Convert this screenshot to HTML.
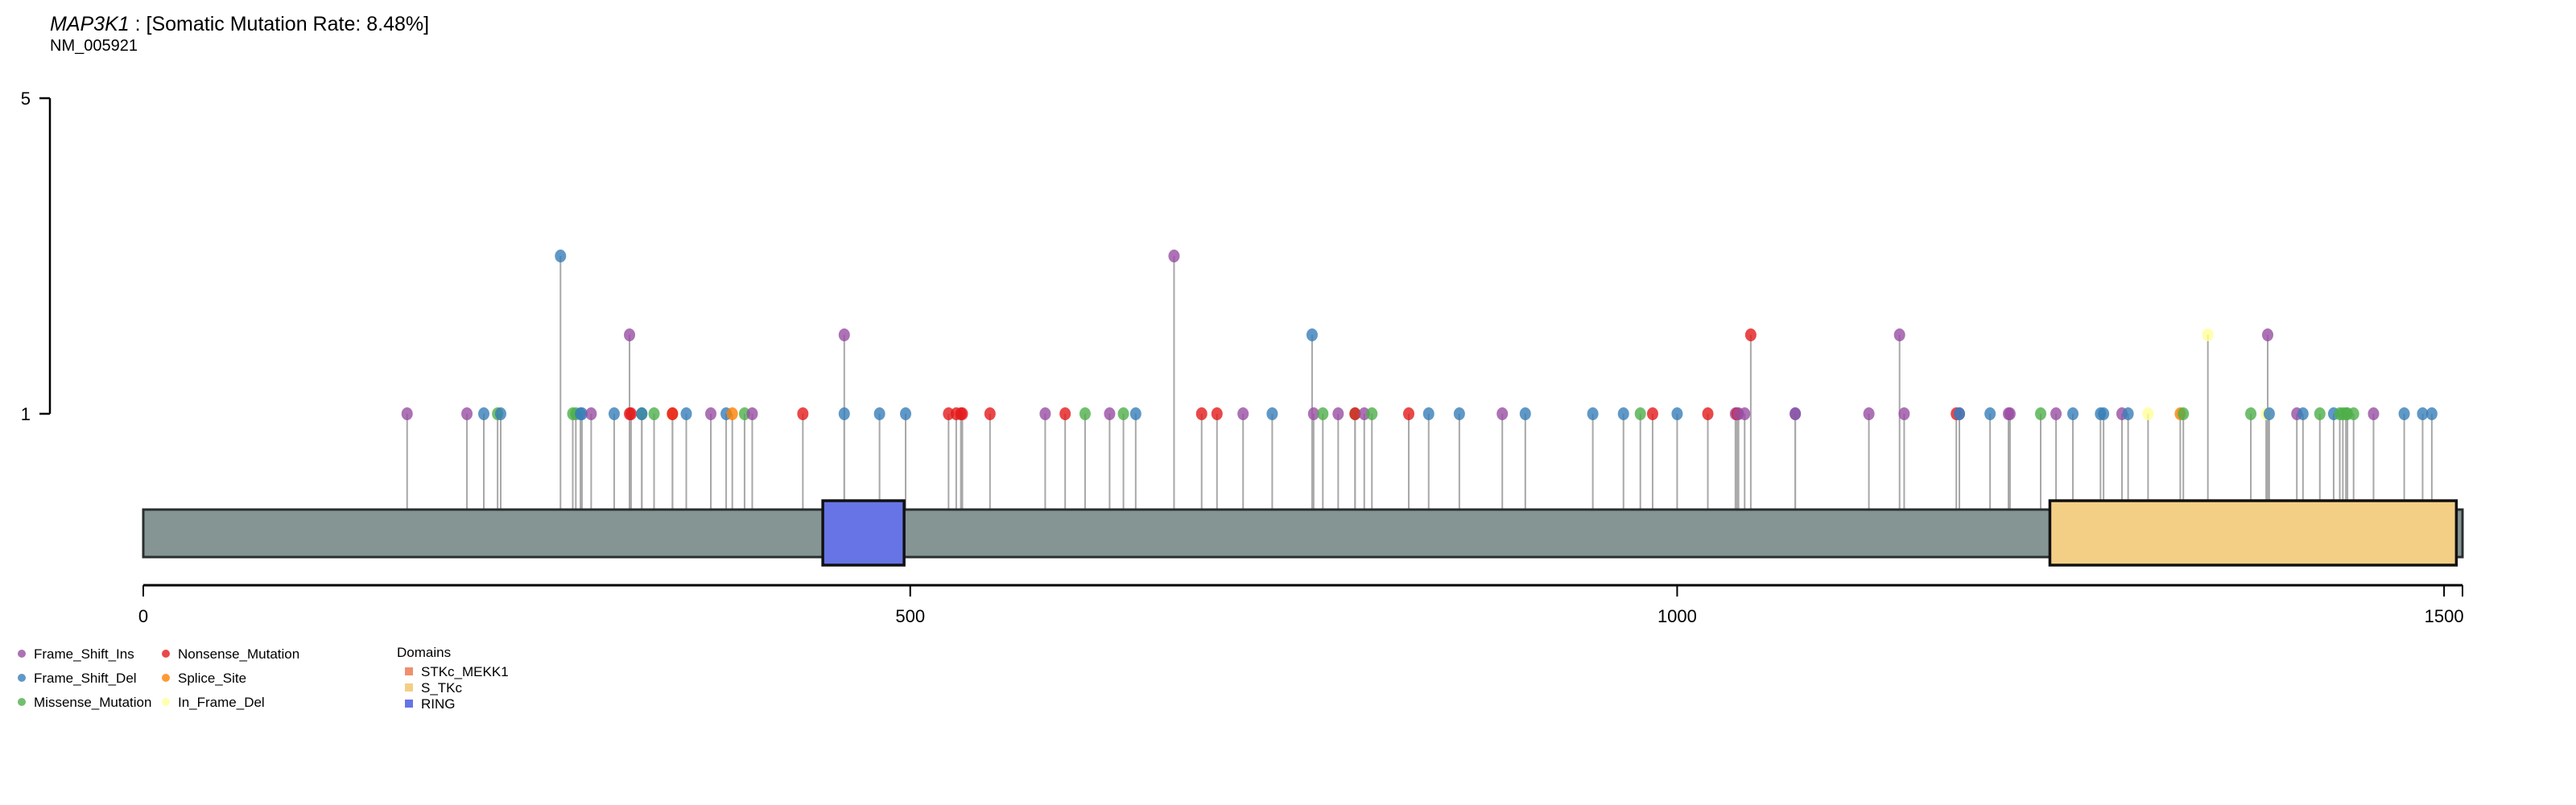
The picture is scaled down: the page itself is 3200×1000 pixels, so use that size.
<!DOCTYPE html>
<html><head><meta charset="utf-8"><style>
html,body{margin:0;padding:0;background:#fff;width:3200px;height:1000px;overflow:hidden}
svg{display:block;font-family:"Liberation Sans",Arial,sans-serif}
</style></head><body>
<svg id="chart" width="3200" height="1000" viewBox="0 0 3200 1000">
  <text x="62" y="38" font-size="25"><tspan font-style="italic">MAP3K1</tspan> : [Somatic Mutation Rate: 8.48%]</text>
  <text x="62" y="63" font-size="20">NM_005921</text>
  <g id="yaxis"></g>
  <g id="stems"></g>
  <g id="protein"></g>
  <g id="dots"></g>
  <g id="xaxis"></g>
  <g id="legend"></g>
  <g id="dlegend"></g>
</svg>
<script>
const proteinLength = 1512;
const xTicks = [0, 500, 1000, 1500];
const yTicks = [1, 5];
const domainNames = ["RING", "S_TKc"];
const domainStarts = [443, 1243];
const domainEnds = [496, 1508];
const typeNames = ["Frame_Shift_Ins","Frame_Shift_Del","Missense_Mutation","Nonsense_Mutation","Splice_Site","In_Frame_Del"];
const typeColors = ["#984EA3","#377EB8","#4DAF4A","#E41A1C","#FF7F00","#FFFF99"];
const mutPos = [172,211,222,231,233,272,280,282,285,286,292,307,317,317,318,325,325,333,345,345,354,370,380,384,392,397,430,457,457,480,497,525,530,533,534,552,588,601,614,630,639,647,672,690,700,717,736,762,763,769,779,790,790,796,801,825,838,858,886,901,945,965,976,984,1000,1020,1038,1039,1040,1044,1048,1077,1077,1125,1145,1148,1182,1184,1184,1204,1216,1217,1237,1247,1258,1276,1278,1290,1294,1307,1328,1330,1346,1374,1384,1385,1386,1404,1408,1419,1428,1432,1434,1436,1437,1441,1454,1474,1486,1492];
const mutCount = [1,1,1,1,1,3,1,1,1,1,1,1,1,2,1,1,1,1,1,1,1,1,1,1,1,1,1,1,2,1,1,1,1,1,1,1,1,1,1,1,1,1,3,1,1,1,1,2,1,1,1,1,1,1,1,1,1,1,1,1,1,1,1,1,1,1,1,1,1,1,2,1,1,1,2,1,1,1,1,1,1,1,1,1,1,1,1,1,1,1,1,1,2,1,1,2,1,1,1,1,1,1,1,1,1,1,1,1,1,1];
const mutType = [0,0,1,2,1,1,2,2,1,1,0,1,3,0,3,2,1,2,4,3,1,0,1,4,2,0,3,1,0,1,1,3,3,3,3,3,0,3,2,0,2,1,0,3,3,0,1,1,0,2,0,2,3,0,2,3,1,1,0,1,1,1,2,3,1,3,0,3,0,0,3,1,0,0,0,0,3,0,1,1,0,0,2,0,1,1,1,0,1,5,4,2,5,2,5,0,1,0,1,2,1,2,2,2,2,2,0,1,1,1];

const NS='http://www.w3.org/2000/svg';
function mk(tag, attrs, parent){const e=document.createElementNS(NS,tag);for(const k in attrs)e.setAttribute(k,attrs[k]);parent.appendChild(e);return e;}
const X0=178, X1=3059;
const xs = v => X0 + v*(X1-X0)/proteinLength;
const ys = c => 514 - (c-1)*98;
const BAR_T=633, BAR_B=692, DOM_T=622, DOM_B=702;

// y axis
const ya=document.getElementById('yaxis');
mk('line',{x1:62,y1:ys(5),x2:62,y2:ys(1),stroke:'#000','stroke-width':2.5},ya);
yTicks.forEach(t=>{
  const l=mk('line',{x1:49,x2:62,y1:ys(t),y2:ys(t),stroke:'#000','stroke-width':2.5},ya);
  
  
  const tx=mk('text',{x:38,y:ys(t)+8,'font-size':22,'text-anchor':'end'},ya);
  tx.textContent=t;
  
  
});

// stems
const sg=document.getElementById('stems');
function baseFor(p){for(let i=0;i<domainStarts.length;i++){if(p>=domainStarts[i]&&p<=domainEnds[i])return DOM_T;}return BAR_T;}
mutPos.forEach((p,i)=>{
  const l=mk('line',{x1:xs(p),x2:xs(p),y1:baseFor(p),y2:ys(mutCount[i]),stroke:'#a8a8a8','stroke-width':2},sg);
  
  
});

// protein
const pg=document.getElementById('protein');
const bar=mk('rect',{x:xs(0),y:BAR_T,width:xs(proteinLength)-xs(0),height:BAR_B-BAR_T,fill:'#849594',stroke:'#2a2e2e','stroke-width':3},pg);


const domColors={"RING":"#6674E6","S_TKc":"#F3CF85","STKc_MEKK1":"#F08F6E"};
domainNames.forEach((n,i)=>{
  const r=mk('rect',{x:xs(domainStarts[i]),y:DOM_T,width:xs(domainEnds[i])-xs(domainStarts[i]),height:DOM_B-DOM_T,fill:domColors[n],stroke:'#111','stroke-width':3.5},pg);
  
  
});

// dots
const dg=document.getElementById('dots');
mutPos.forEach((p,i)=>{
  const c=mk('ellipse',{cx:xs(p),cy:ys(mutCount[i]),rx:7,ry:8,fill:typeColors[mutType[i]],'fill-opacity':0.8},dg);
  
  
});

// x axis
const xa=document.getElementById('xaxis');
mk('line',{x1:xs(0),x2:xs(proteinLength),y1:727,y2:727,stroke:'#000','stroke-width':3},xa);
mk('line',{x1:xs(proteinLength),x2:xs(proteinLength),y1:727,y2:741,stroke:'#000','stroke-width':2},xa);
xTicks.forEach(t=>{
  const l=mk('line',{x1:xs(t),x2:xs(t),y1:727,y2:741,stroke:'#000','stroke-width':2},xa);
  
  
  const tx=mk('text',{x:xs(t),y:773,'font-size':22,'text-anchor':'middle'},xa);
  tx.textContent=t;
  
  
});

// mutation legend
const lg=document.getElementById('legend');
const legendOrder=[0,1,2,3,4,5];
legendOrder.forEach((ti,k)=>{
  const col=Math.floor(k/3), row=k%3;
  const cx=27+col*179, cy=812+row*30;
  const d=mk('circle',{cx:cx,cy:cy,r:5,fill:typeColors[ti],'fill-opacity':0.8},lg);
  
  
  const t=mk('text',{x:cx+15,y:cy+6,'font-size':17},lg);
  t.textContent=typeNames[ti];
  
  
});

// domain legend
const dl=document.getElementById('dlegend');
const dt=mk('text',{x:493,y:816,'font-size':17},dl);
dt.textContent='Domains';


["STKc_MEKK1","S_TKc","RING"].forEach((n,k)=>{
  const y=835+k*20;
  const s=mk('rect',{x:503,y:y-6,width:10,height:10,fill:domColors[n]},dl);
  
  
  const t=mk('text',{x:523,y:y+5,'font-size':17},dl);
  t.textContent=n;
  
  
});
</script>
</body></html>
